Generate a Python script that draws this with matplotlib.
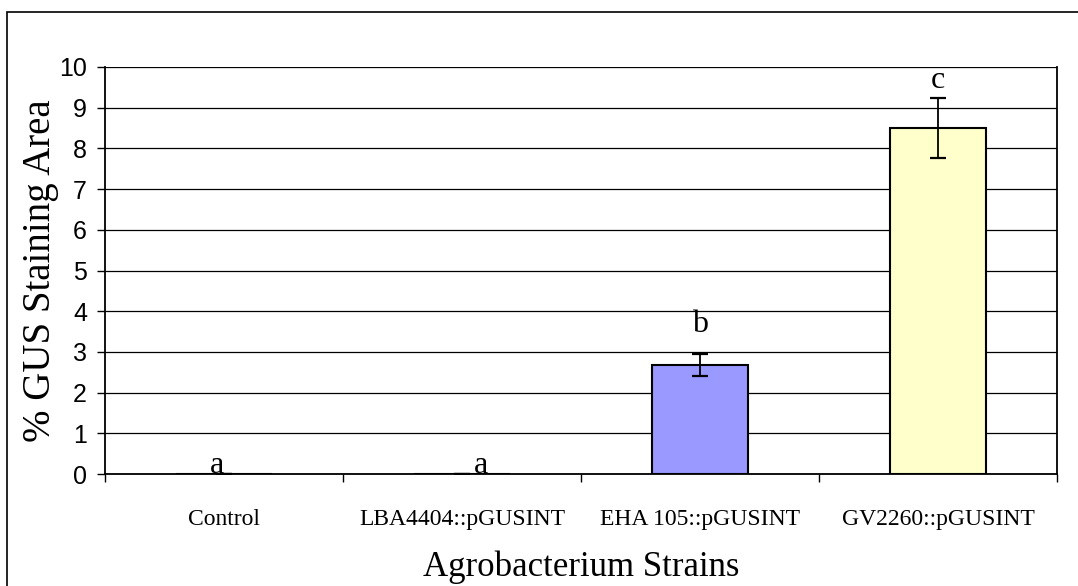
import matplotlib.pyplot as plt
from matplotlib.patches import Rectangle

# GUS staining per Agrobacterium strain
strains = ['Control', 'LBA4404::pGUSINT', 'EHA 105::pGUSINT', 'GV2260::pGUSINT']
gus_area = [0, 0, 2.68, 8.5]
gus_err = [0, 0, 0.28, 0.74]
letters = ['a', 'a', 'b', 'c']
letter_x = [-0.03, 0.08, 0.0, 0.0]
letter_y = [0.02, 0.02, 3.5, 9.48]
bar_colors = ['white', 'white', '#9999FF', '#FFFFCC']

fig = plt.figure(figsize=(10.78, 5.86), dpi=100)
ax = fig.add_axes([105 / 1078, 1 - 474 / 586, 952 / 1078, 407 / 586])

x = range(len(strains))
ax.bar(x, gus_area, width=0.4, color=bar_colors, edgecolor='black', linewidth=1.5, zorder=3)
ax.errorbar(x, gus_area, yerr=gus_err, fmt='none', ecolor='black', elinewidth=1.3,
            capsize=6, capthick=1.6, zorder=4)

for i, lab in enumerate(letters):
    ax.text(i + letter_x[i], letter_y[i], lab, ha='center', va='baseline', fontsize=23,
            family='Liberation Serif', zorder=5)

ax.set_xlim(-0.5, len(strains) - 0.5)
ax.set_ylim(0, 10)
ax.set_yticks(range(0, 11))
ax.yaxis.grid(True, color='black', linewidth=0.9)
ax.set_axisbelow(True)
for lbl in ax.get_yticklabels():
    lbl.set_family('Liberation Sans')
    lbl.set_fontsize(18)
ax.tick_params(axis='y', direction='out', length=6, width=1, pad=7)

# category labels between boundary ticks
ax.set_xticks([i + 0.5 for i in range(-1, len(strains))])
ax.set_xticklabels([])
ax.set_xticks(list(x), minor=True)
ax.set_xticklabels(strains, minor=True, family='Liberation Serif', fontsize=17)
ax.tick_params(axis='x', which='major', direction='out', length=6, width=1)
ax.tick_params(axis='x', which='minor', length=0, pad=25)

ax.spines['top'].set_visible(False)
ax.spines['left'].set_linewidth(1.3)
ax.spines['bottom'].set_linewidth(1.3)
ax.spines['right'].set_linewidth(1.3)

ax.set_ylabel('% GUS Staining Area', family='Liberation Serif', fontsize=28, labelpad=0)
ax.set_xlabel('Agrobacterium Strains', family='Liberation Serif', fontsize=25, labelpad=15)

# chart border
fig.patches.append(Rectangle((7 / 1078, -0.1), 1.2, 1 - 12 / 586 + 0.1, transform=fig.transFigure,
                             fill=False, edgecolor='black', linewidth=1.2))

fig.savefig('out.png', dpi=100)
